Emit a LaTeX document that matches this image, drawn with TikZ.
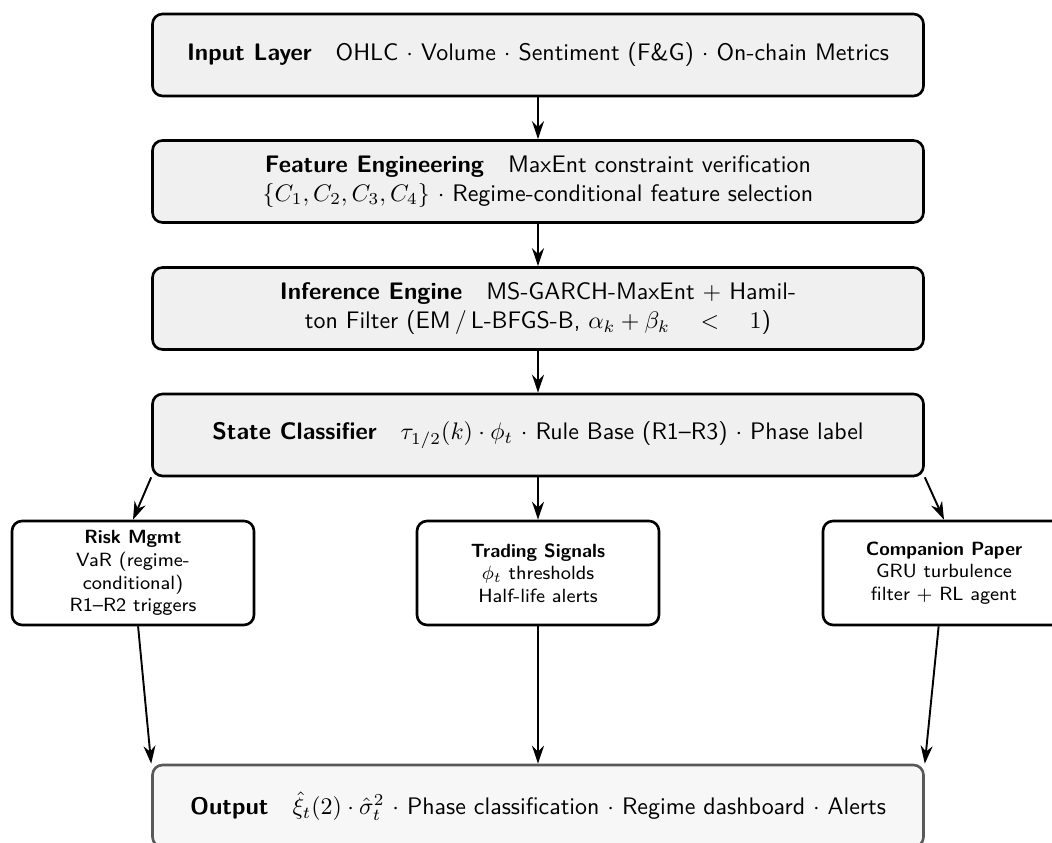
\documentclass[tikz,border=0pt]{standalone}
\usepackage{amsmath}
\usepackage{amssymb}
\usetikzlibrary{positioning,arrows.meta}
\renewcommand{\familydefault}{\sfdefault}
\newcommand{\pxu}{0.0147cm}

\begin{document}
\begin{tikzpicture}[x=\pxu,y=-\pxu,
    layer/.style={draw, line width=1.1pt, rounded corners=4.2pt, fill=black!6,
        minimum width={771*\pxu}, minimum height={82*\pxu}, align=center},
    branch/.style={draw, line width=1.1pt, rounded corners=4.2pt, fill=white,
        minimum width={242*\pxu}, minimum height={104*\pxu}, align=center, font=\footnotesize},
    flow/.style={-{Stealth[length=7.5pt,width=5pt]}, thick}]
    \useasboundingbox (0,0) rectangle (1052,843);

\node[layer] (input) at (538,55) {\textbf{Input Layer}\quad OHLC $\cdot$ Volume $\cdot$ Sentiment (F\&G) $\cdot$ On-chain Metrics};
\node[layer] (feature) at (538,181.5) {\textbf{Feature Engineering}\quad MaxEnt constraint verification\\ $\{C_1,C_2,C_3,C_4\}$ $\cdot$ Regime-conditional feature selection};
\node[layer] (inference) at (538,308.5) {\textbf{Inference Engine}\quad MS-GARCH-MaxEnt $+$ Hamil-\\ton Filter (EM\,/\,L-BFGS-B, $\alpha_k+\beta_k\quad<\quad1$)};
\node[layer] (state) at (538,435) {\textbf{State Classifier}\quad $\tau_{1/2}(k)\cdot\phi_t$ $\cdot$ Rule Base (R1--R3) $\cdot$ Phase label};

\node[branch] (risk) at (133,573) {\textbf{Risk Mgmt}\\VaR (regime-\\conditional)\\R1--R2 triggers};
\node[branch] (trading) at (538,573) {\textbf{Trading Signals}\\$\phi_t$ thresholds\\Half-life alerts};
\node[branch] (companion) at (944,573) {\textbf{Companion Paper}\\GRU turbulence\\filter $+$ RL agent};

\node[layer, draw=black!65, fill=black!3] (output) at (538,806) {\textbf{Output}\quad $\hat{\xi}_t(2)\cdot\hat{\sigma}_t^2$ $\cdot$ Phase classification $\cdot$ Regime dashboard $\cdot$ Alerts};

\draw[flow] (input) -- (feature);
\draw[flow] (feature) -- (inference);
\draw[flow] (inference) -- (state);

\draw[flow] (state.south west) -- (risk.north);
\draw[flow] (state) -- (trading);
\draw[flow] (state.south east) -- (companion.north);

\draw[flow] (risk) -- (output.north west);
\draw[flow] (trading) -- (output);
\draw[flow] (companion) -- (output.north east);

\end{tikzpicture}
\end{document}
